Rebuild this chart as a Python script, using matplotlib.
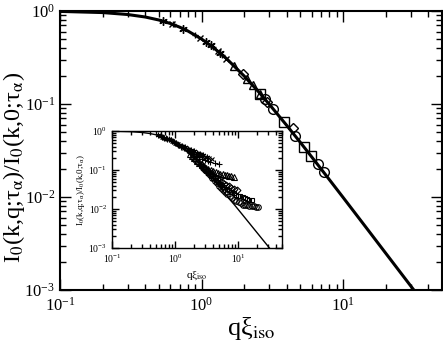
import numpy as np
import matplotlib
matplotlib.use("Agg")
import matplotlib.pyplot as plt
from matplotlib.ticker import LogLocator, NullFormatter

plt.rcParams['font.family'] = ['Liberation Serif', 'DejaVu Serif']
plt.rcParams['mathtext.fontset'] = 'stix'

# Lorentzian (Ornstein-Zernike) curve
curve_x = [0.1, 0.2, 0.3, 0.4, 0.5, 0.6, 0.7, 0.8, 1.0, 1.2, 1.5, 2.0, 2.5,
           3.0, 4.0, 5.0, 7.0, 10.0, 15.0, 20.0, 30.0, 50.0]
curve_y = [0.990, 0.962, 0.917, 0.862, 0.800, 0.735, 0.671, 0.610, 0.500,
           0.410, 0.308, 0.200, 0.138, 0.100, 0.0588, 0.0385, 0.0200,
           0.0099, 0.00442, 0.00249, 0.00111, 0.0004]

# main panel: collapsed data
m_star_x = [0.53, 0.74, 1.07, 1.16, 1.36]
m_star_y = [0.78, 0.646, 0.466, 0.426, 0.351]
m_cross_x = [0.62, 0.98, 1.3, 1.5]
m_cross_y = [0.722, 0.51, 0.372, 0.308]
m_plus_x = [0.63, 0.9, 1.2, 1.4]
m_plus_y = [0.716, 0.552, 0.41, 0.338]
m_tri_x = [1.7, 2.1, 2.3, 2.6]
m_tri_y = [0.257, 0.185, 0.159, 0.129]
m_dia_x = [1.95, 2.9, 4.4]
m_dia_y = [0.208, 0.106, 0.055]
m_sq_x = [2.6, 3.8, 5.3, 5.9]
m_sq_y = [0.129, 0.0648, 0.0344, 0.0279]
m_circ_x = [2.8, 3.2, 4.6, 6.6, 7.3]
m_circ_y = [0.113, 0.089, 0.0451, 0.0224, 0.0184]

# inset: full q range
i_star_x = [0.53, 0.6, 0.68, 0.76, 0.85, 0.95, 1.05, 1.17, 1.3, 1.45, 1.6, 1.8, 2.0, 2.25, 2.5, 2.8, 3.2]
i_star_y = [0.78, 0.73, 0.68, 0.63, 0.58, 0.53, 0.49, 0.45, 0.41, 0.38, 0.35, 0.32, 0.30, 0.28, 0.26, 0.24, 0.22]
i_cross_x = [0.62, 0.7, 0.8, 0.9, 1.0, 1.12, 1.25, 1.4, 1.55, 1.7, 1.9, 2.15, 2.4, 2.7, 3.0, 3.5, 3.9]
i_cross_y = [0.72, 0.67, 0.61, 0.55, 0.5, 0.455, 0.41, 0.375, 0.34, 0.315, 0.29, 0.27, 0.25, 0.235, 0.22, 0.20, 0.19]
i_plus_x = [0.63, 0.71, 0.8, 0.9, 1.0, 1.12, 1.25, 1.4, 1.55, 1.7, 1.9, 2.15, 2.4, 2.7, 3.0, 3.3, 3.6, 4.3, 5.0]
i_plus_y = [0.716, 0.66, 0.61, 0.55, 0.5, 0.45, 0.40, 0.36, 0.32, 0.29, 0.26, 0.235, 0.21, 0.195, 0.18, 0.17, 0.16, 0.15, 0.14]
i_tri_x = [1.7, 1.85, 2.0, 2.2, 2.4, 2.65, 2.9, 3.15, 3.4, 3.7, 4.0, 4.4, 4.8, 5.2, 5.7, 6.2, 6.8, 7.2, 7.7, 8.6]
i_tri_y = [0.26, 0.23, 0.2, 0.175, 0.155, 0.14, 0.125, 0.115, 0.105, 0.098, 0.092, 0.088, 0.084, 0.081, 0.078, 0.075, 0.073, 0.071, 0.070, 0.067]
i_dia_x = [1.95, 2.1, 2.3, 2.55, 2.8, 3.05, 3.3, 3.6, 3.9, 4.25, 4.6, 5.0, 5.5, 6.0, 6.5, 7.1, 7.7, 8.5, 9.5]
i_dia_y = [0.21, 0.18, 0.16, 0.138, 0.12, 0.107, 0.095, 0.084, 0.075, 0.067, 0.060, 0.054, 0.049, 0.045, 0.041, 0.038, 0.035, 0.033, 0.030]
i_sq_x = [2.6, 2.85, 3.1, 3.4, 3.7, 4.0, 4.4, 4.8, 5.2, 5.6, 6.1, 6.6, 7.2, 7.8, 8.5, 9.2, 10.0, 10.9, 11.8, 12.8, 13.9, 15.2, 16.6]
i_sq_y = [0.129, 0.11, 0.095, 0.082, 0.072, 0.064, 0.056, 0.050, 0.045, 0.041, 0.037, 0.033, 0.030, 0.027, 0.025, 0.0235, 0.022, 0.021, 0.020, 0.019, 0.018, 0.0175, 0.017]
i_circ_x = [2.8, 3.05, 3.3, 3.6, 3.9, 4.25, 4.6, 5.0, 5.4, 5.8, 6.3, 6.8, 7.4, 8.0, 8.7, 9.4, 10.2, 11.1, 12.0, 13.0, 14.0, 15.2, 16.5, 17.8, 19.0, 21.0]
i_circ_y = [0.113, 0.098, 0.085, 0.073, 0.062, 0.053, 0.046, 0.040, 0.035, 0.031, 0.027, 0.024, 0.021, 0.019, 0.017, 0.016, 0.015, 0.014, 0.013, 0.0128, 0.0125, 0.0122, 0.012, 0.0117, 0.0115, 0.0113]

ylab = 'I$_0$(k,q;τ$_\\mathrm{α}$)/I$_0$(k,0;τ$_\\mathrm{α}$)'
xlab = 'qξ$_{\\mathrm{iso}}$'


def style_axes(ax, major, minor, fs):
    ax.set_xscale('log')
    ax.set_yscale('log')
    ax.set_xlim(0.1, 50)
    ax.set_ylim(1e-3, 1)
    ax.xaxis.set_major_locator(LogLocator(base=10, numticks=10))
    ax.yaxis.set_major_locator(LogLocator(base=10, numticks=10))
    ax.xaxis.set_minor_locator(LogLocator(base=10, subs=np.arange(2, 10), numticks=20))
    ax.yaxis.set_minor_locator(LogLocator(base=10, subs=np.arange(2, 10), numticks=20))
    ax.xaxis.set_minor_formatter(NullFormatter())
    ax.yaxis.set_minor_formatter(NullFormatter())
    ax.tick_params(which='both', direction='in', top=True, right=True, labelsize=fs)
    ax.tick_params(which='major', length=major, width=1)
    ax.tick_params(which='minor', length=minor, width=1)
    for s in ax.spines.values():
        s.set_linewidth(1.5)


fig = plt.figure(figsize=(4.43, 3.45), dpi=100)
ax = fig.add_axes([60/443, 55/345, 382/443, 279/345])
style_axes(ax, 8, 4, 12)
ax.tick_params(axis='x', pad=5)
ax.plot(curve_x, curve_y, color='black', lw=2.2)

mk = dict(color='black', linestyle='none', mfc='none', mew=1.0)
ax.plot(m_star_x, m_star_y, marker=(6, 2, 0), ms=6, **mk)
ax.plot(m_cross_x, m_cross_y, marker='x', ms=5, **mk)
ax.plot(m_plus_x, m_plus_y, marker='+', ms=5, **mk)
ax.plot(m_tri_x, m_tri_y, marker='^', ms=6, **mk)
ax.plot(m_dia_x, m_dia_y, marker='D', ms=5, **mk)
ax.plot(m_sq_x, m_sq_y, marker='s', ms=6.5, **mk)
ax.plot(m_circ_x, m_circ_y, marker='o', ms=7, **mk)
ax.set_xlabel(xlab, fontsize=19, labelpad=0)
ax.set_ylabel(ylab, fontsize=17.5)
ax.yaxis.set_label_coords(-0.086, 0.44)

ins = fig.add_axes([112/443, 97/345, 170/443, 117/345])
style_axes(ins, 5, 3, 7)
ins.plot(curve_x, curve_y, color='black', lw=1.0)
mk2 = dict(color='black', linestyle='none', mfc='none', mew=0.8)
ins.plot(i_star_x, i_star_y, marker=(6, 2, 0), ms=4, **mk2)
ins.plot(i_cross_x, i_cross_y, marker='x', ms=3.5, **mk2)
ins.plot(i_plus_x, i_plus_y, marker='+', ms=4, **mk2)
ins.plot(i_tri_x, i_tri_y, marker='^', ms=4, **mk2)
ins.plot(i_dia_x, i_dia_y, marker='D', ms=3.5, **mk2)
ins.plot(i_sq_x, i_sq_y, marker='s', ms=3.5, **mk2)
ins.plot(i_circ_x, i_circ_y, marker='o', ms=4, **mk2)
ins.set_xlabel(xlab, fontsize=8, labelpad=3)
ins.set_ylabel(ylab, fontsize=6.5, labelpad=1)
for s in ins.spines.values():
    s.set_linewidth(1.0)

fig.savefig('out.png', dpi=100)
